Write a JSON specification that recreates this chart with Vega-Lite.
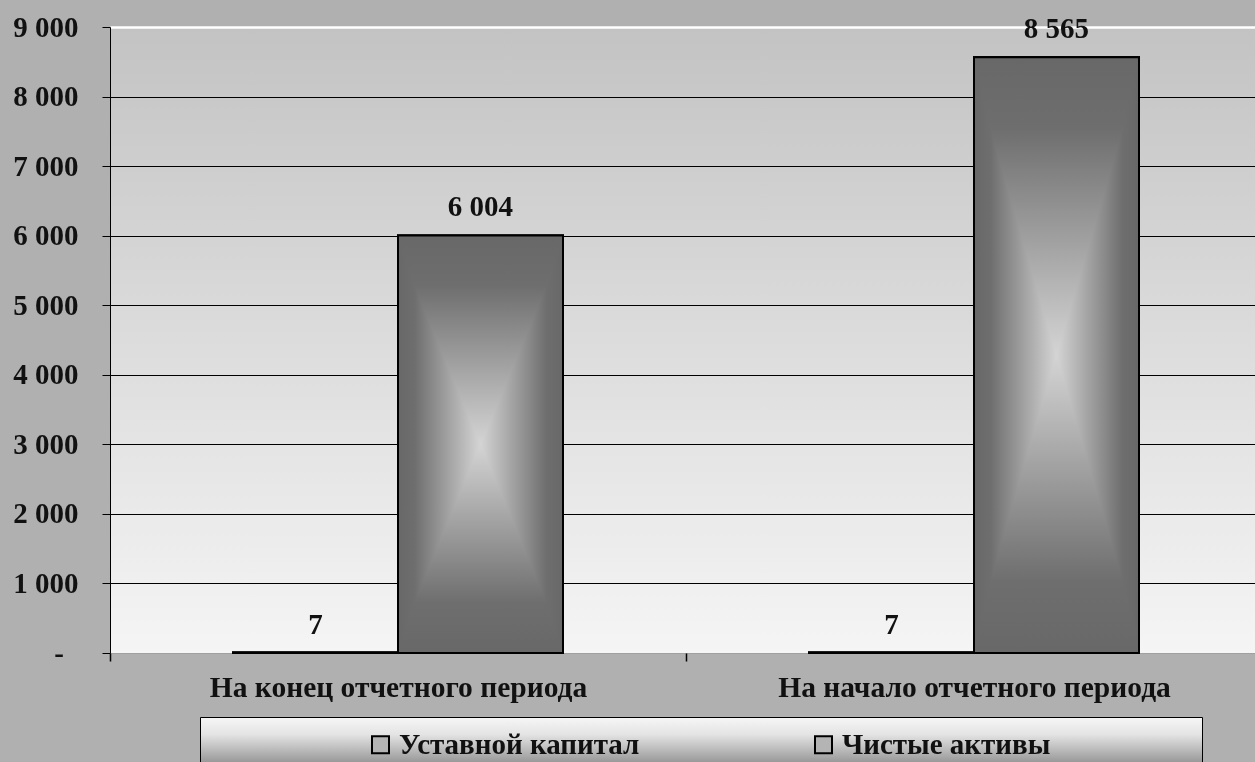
{
  "$schema": "https://vega.github.io/schema/vega-lite/v6.json",
  "width": 1152,
  "height": 626,
  "autosize": {"type": "none"},
  "padding": {"left": 110, "top": 27, "right": 0, "bottom": 109},
  "background": "#b0b0b0",
  "view": {
    "stroke": null,
    "fill": {"gradient": "linear", "x1": 0, "y1": 0, "x2": 0, "y2": 1,
      "stops": [{"offset": 0, "color": "#c3c3c3"}, {"offset": 1, "color": "#f5f5f5"}]}
  },
  "config": {
    "locale": {"number": {"decimal": ",", "thousands": " ", "grouping": [3], "currency": ["", ""]}},
    "axis": {
      "labelFont": "Liberation Serif",
      "labelFontWeight": "bold",
      "labelFontSize": 29,
      "labelColor": "#111111",
      "title": null
    }
  },
  "data": {
    "values": [
      {"period": "На конец отчетного периода", "series": "Уставной капитал", "value": 7},
      {"period": "На конец отчетного периода", "series": "Чистые активы", "value": 6004},
      {"period": "На начало отчетного периода", "series": "Уставной капитал", "value": 7},
      {"period": "На начало отчетного периода", "series": "Чистые активы", "value": 8565}
    ]
  },
  "encoding": {
    "x": {
      "field": "period", "type": "nominal", "sort": null,
      "scale": {"paddingInner": 0, "paddingOuter": 0},
      "axis": {
        "title": null, "labelAngle": 0, "tickBand": "extent", "tickSize": 8,
        "tickColor": "#000000", "tickWidth": 1.5, "domain": false, "labelPadding": 12,
        "labelFontSize": 29.5, "labelLimit": 600
      }
    },
    "xOffset": {
      "field": "series", "type": "nominal", "sort": null,
      "scale": {"paddingInner": 0, "paddingOuter": 0.7455}
    },
    "y": {
      "field": "value", "type": "quantitative",
      "scale": {"domain": [0, 9000], "nice": false},
      "axis": {
        "title": null,
        "values": [0, 1000, 2000, 3000, 4000, 5000, 6000, 7000, 8000, 9000],
        "grid": true,
        "gridColor": {"expr": "datum.value == 9000 ? '#ffffff' : datum.value == 0 ? '#a0a0a0' : '#000000'"},
        "gridWidth": {"condition": {"test": "datum.value == 9000", "value": 2.5}, "value": 1},
        "domain": true, "domainColor": "#000000", "domainWidth": 1,
        "tickSize": 8, "tickColor": "#000000", "tickWidth": 1,
        "labelPadding": 24,
        "labelExpr": "datum.value == 0 ? '-\u00a0\u00a0\u200b' : format(datum.value, ',d')"
      }
    }
  },
  "layer": [
    {
      "mark": {"type": "bar", "stroke": "#000000", "strokeWidth": 2},
      "encoding": {
        "fill": {
          "field": "series", "type": "nominal", "sort": null,
          "scale": {"range": ["#b4b4b4", "#b4b4b4"]},
          "legend": {
            "orient": "none", "legendX": 90, "legendY": 690, "direction": "horizontal",
            "title": "\u00a0", "titleOrient": "left", "titleFontSize": 2, "titlePadding": 153,
            "padding": 13,
            "fillColor": {"value": {"gradient": "linear", "x1": 0, "y1": 0, "x2": 0, "y2": 1,
              "stops": [{"offset": 0, "color": "#f6f6f6"}, {"offset": 0.3, "color": "#e4e4e4"}, {"offset": 0.87, "color": "#8e8e8e"}, {"offset": 1, "color": "#888888"}]}},
            "strokeColor": "#000000",
            "symbolType": "square", "symbolSize": 289,
            "symbolStrokeColor": "#000000", "symbolStrokeWidth": 2,
            "labelFont": "Liberation Serif", "labelFontWeight": "bold", "labelFontSize": 29,
            "labelColor": "#111111", "labelOffset": 4, "labelLimit": 900,
            "columnPadding": 169,
            "labelExpr": "datum.label == 'Чистые активы' ? datum.label + '\u00a0\u00a0\u00a0\u00a0\u00a0\u00a0\u00a0\u00a0\u00a0\u00a0\u00a0\u00a0\u00a0\u00a0\u00a0\u00a0\u00a0\u00a0\u00a0\u200b' : datum.label"
          }
        }
      }
    },
    {
      "mark": {
        "type": "bar", "stroke": "#000000", "strokeWidth": 2,
        "fill": {"gradient": "linear", "x1": 0, "y1": 0, "x2": 1, "y2": 0,
          "stops": [{"offset": 0, "color": "#686868"}, {"offset": 0.1, "color": "#6e6e6e"}, {"offset": 0.5, "color": "#d4d4d4"}, {"offset": 0.9, "color": "#6e6e6e"}, {"offset": 1, "color": "#686868"}]}
      }
    },
    {
      "mark": {
        "type": "bar", "stroke": "#000000", "strokeWidth": 2, "blend": "darken",
        "fill": {"gradient": "linear", "x1": 0, "y1": 0, "x2": 0, "y2": 1,
          "stops": [{"offset": 0, "color": "#686868"}, {"offset": 0.12, "color": "#6e6e6e"}, {"offset": 0.5, "color": "#d4d4d4"}, {"offset": 0.88, "color": "#6e6e6e"}, {"offset": 1, "color": "#686868"}]}
      }
    },
    {
      "mark": {
        "type": "text", "dy": -19, "baseline": "alphabetic", "align": "center",
        "font": "Liberation Serif", "fontWeight": "bold", "fontSize": 29, "color": "#111111"
      },
      "encoding": {
        "text": {"field": "value", "type": "quantitative", "format": ",d"}
      }
    }
  ]
}
